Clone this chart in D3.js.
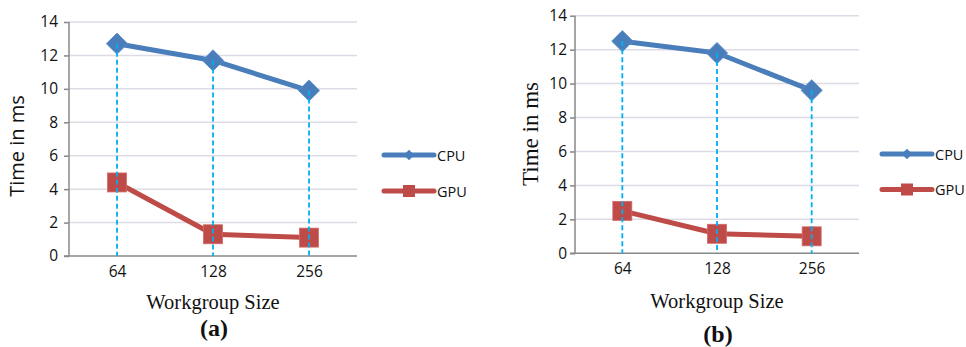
<!DOCTYPE html>
<html>
<head>
<meta charset="utf-8">
<script src="https://cdn.jsdelivr.net/npm/d3@7"></script>
<style>
  body { margin: 0; background: #fff; }
  svg { display: block; }
</style>
</head>
<body>
<svg id="chart" width="966" height="347"></svg>
<script>
// values
var sizes = ["64", "128", "256"];
var cpuA = [12.7, 11.7, 9.9];
var gpuA = [4.4, 1.3, 1.1];
var cpuB = [12.5, 11.8, 9.6];
var gpuB = [2.5, 1.15, 1.0];
var yTicks = [0, 2, 4, 6, 8, 10, 12, 14];
var seriesNames = ["CPU", "GPU"];
var panelNames = ["(a)", "(b)"];

var blue = "#4a7ebb", red = "#be4b48", drop = "#00b0f0", axisCol = "#888", gridCol = "#dcdbe6";
var sans = "Open Sans, sans-serif", serif = "Liberation Serif, serif";
var svg = d3.select("#chart");

function panel(o){
	var g = svg.append("g");
	var x = d3.scalePoint().domain(sizes).range([o.l, o.r]).padding(0.5);
	var y = d3.scaleLinear().domain([0, 14]).range([o.b, o.t]);

	// gridlines
	g.selectAll(".grid").data(yTicks.filter(function(d){ return d > 0; })).enter().append("line")
		.attr("x1", o.l).attr("x2", o.r).attr("y1", function(d){ return y(d); }).attr("y2", function(d){ return y(d); })
		.attr("stroke", gridCol).attr("stroke-width", 1.5);

	var ya = g.append("g").attr("transform", "translate(" + o.l + ",0)")
		.call(d3.axisLeft(y).tickValues(yTicks).tickSize(5).tickPadding(o.tp));
	ya.select(".domain").attr("stroke", axisCol).attr("stroke-width", 1.5).attr("d", "M0," + y(0) + "V" + y(14));
	ya.selectAll(".tick line").attr("stroke", axisCol).attr("stroke-width", 1.5);
	ya.selectAll(".tick text").attr("font-family", sans).attr("font-size", 15.5).attr("fill", "#111");

	var xa = g.append("g").attr("transform", "translate(0," + o.b + ")")
		.call(d3.axisBottom(x).tickSize(0).tickPadding(10));
	xa.select(".domain").attr("stroke", axisCol).attr("stroke-width", 1.5).attr("d", "M" + (o.l - 5) + ",0H" + o.r);
	xa.selectAll(".tick text").attr("dy", "0.71em").attr("y", 10)
		.attr("font-family", sans).attr("font-size", 15.5).attr("fill", "#111");

	var line = d3.line().x(function(d, i){ return x(sizes[i]); }).y(function(d){ return y(d); });

	g.append("path").datum(o.cpu).attr("d", line).attr("fill", "none").attr("stroke", blue).attr("stroke-width", 5).attr("stroke-linejoin", "round");
	g.append("path").datum(o.gpu).attr("d", line).attr("fill", "none").attr("stroke", red).attr("stroke-width", 5).attr("stroke-linejoin", "round");

	g.selectAll(".dia").data(o.cpu).enter().append("rect")
		.attr("x", -7.5).attr("y", -7.5).attr("width", 15).attr("height", 15)
		.attr("transform", function(d, i){ return "translate(" + x(sizes[i]) + "," + y(d) + ") rotate(45)"; })
		.attr("fill", blue).attr("stroke", "#5a8cc8").attr("stroke-width", 0.8);
	g.selectAll(".sq").data(o.gpu).enter().append("rect")
		.attr("x", function(d, i){ return x(sizes[i]) - 9.5; }).attr("y", function(d){ return y(d) - 9.5; })
		.attr("width", 19).attr("height", 19)
		.attr("fill", red).attr("stroke", "#d06a67").attr("stroke-width", 0.8);

	// drop lines on top
	g.selectAll(".drop").data(o.cpu).enter().append("line")
		.attr("x1", function(d, i){ return x(sizes[i]); }).attr("x2", function(d, i){ return x(sizes[i]); })
		.attr("y1", function(d){ return y(d); }).attr("y2", y(0))
		.attr("stroke", drop).attr("stroke-width", 1.8).attr("stroke-dasharray", "5,3");

	// legend
	[blue, red].forEach(function(c, i){
		var ly = o.legY[i];
		g.append("line").attr("x1", o.legX).attr("x2", o.legX + 50).attr("y1", ly).attr("y2", ly)
			.attr("stroke", c).attr("stroke-width", 5).attr("stroke-linecap", "round");
		if(i == 0){
			g.append("rect").attr("x", -3.8).attr("y", -3.8).attr("width", 7.6).attr("height", 7.6)
				.attr("transform", "translate(" + (o.legX + 25) + "," + ly + ") rotate(45)").attr("fill", c);
		}else{
			g.append("rect").attr("x", o.legX + 25 - 6).attr("y", ly - 6).attr("width", 12).attr("height", 12).attr("fill", c);
		}
		g.append("text").attr("x", o.legX + 53).attr("y", ly + 5.5).text(seriesNames[i])
			.attr("font-family", sans).attr("font-size", 14.5).attr("fill", "#111");
	});

	g.append("text").attr("transform", "translate(" + o.ylX + "," + o.ylY + ") rotate(-90)")
		.attr("text-anchor", "middle").attr("font-family", o.ylFont).attr("font-size", o.ylSize).attr("fill", "#111")
		.text("Time in ms");
	g.append("text").attr("x", x("128")).attr("y", o.xlY).attr("text-anchor", "middle")
		.attr("font-family", serif).attr("font-size", 20.5).attr("fill", "#111")
		.text("Workgroup Size");
	g.append("text").attr("x", x("128") + 1).attr("y", o.capY).attr("text-anchor", "middle")
		.attr("font-family", serif).attr("font-weight", "bold").attr("font-size", 24).attr("fill", "#111")
		.text(o.name);
}

panel({l: 69, r: 357, t: 22, b: 256, tp: 6, cpu: cpuA, gpu: gpuA, legX: 384, legY: [155, 191],
	ylX: 24, ylY: 146, ylFont: sans, ylSize: 20, xlY: 309, capY: 336, name: panelNames[0]});
panel({l: 575, r: 859, t: 15.7, b: 253.3, tp: 3, cpu: cpuB, gpu: gpuB, legX: 882, legY: [154, 189.5],
	ylX: 538, ylY: 134, ylFont: serif, ylSize: 23, xlY: 308, capY: 342, name: panelNames[1]});
</script>
</body>
</html>
